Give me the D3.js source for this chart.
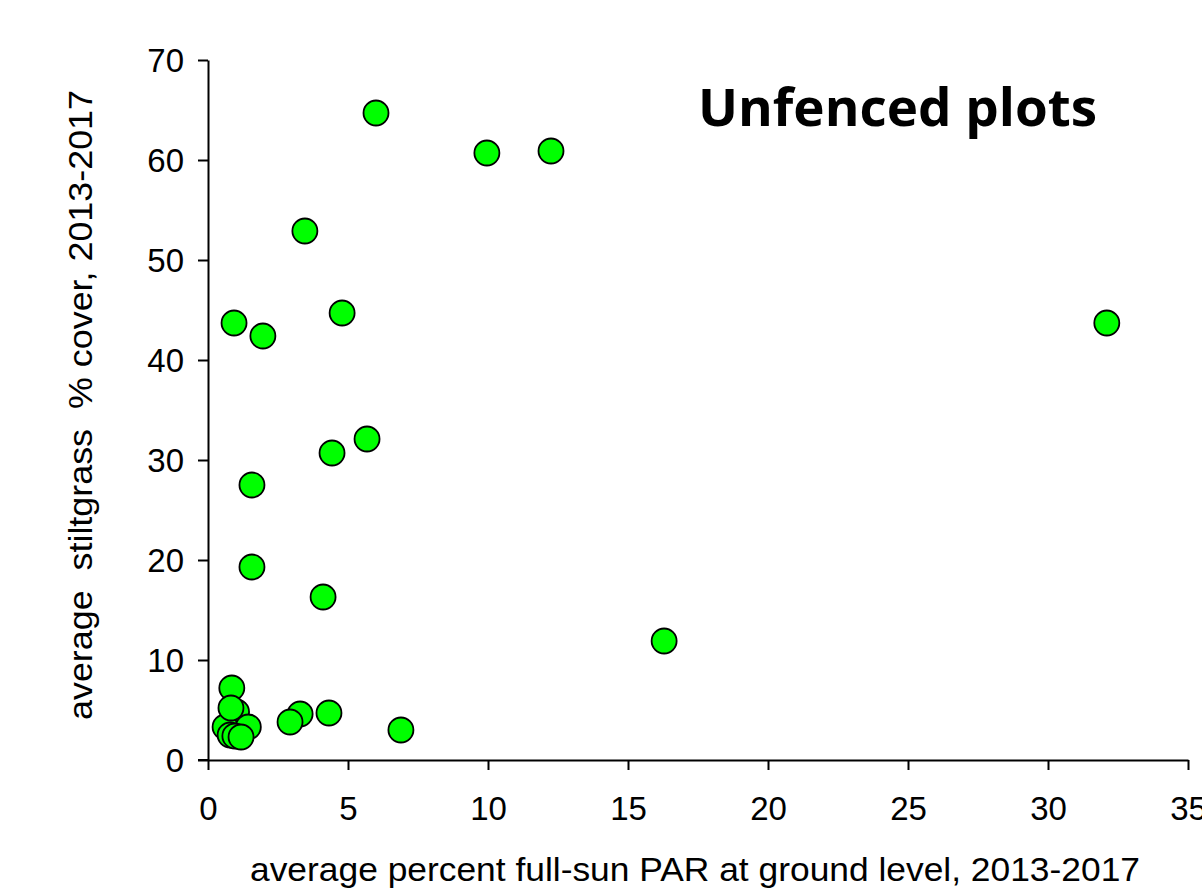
<!DOCTYPE html>
<html>
<head>
<meta charset="utf-8">
<script src="https://cdn.jsdelivr.net/npm/d3@7"></script>
<style>
  body { margin: 0; background: #fff; }
  svg text { font-family: "Liberation Sans", Arial, sans-serif; fill: #000; }
</style>
</head>
<body>
<svg id="chart" width="1202" height="889"></svg>
<script>
// average percent full-sun PAR (x) vs average stiltgrass % cover (y)
var parValues = [6.0, 9.96, 12.25, 3.46, 4.79, 0.93, 1.96, 32.1, 5.68, 4.43, 1.57, 1.57, 4.11, 16.29,
  6.89, 4.32, 3.29, 2.93, 1.02, 0.61, 1.44, 0.85, 0.82, 0.79, 0.96, 1.18];
var coverValues = [64.7, 60.7, 60.9, 52.9, 44.7, 43.7, 42.4, 43.7, 32.1, 30.7, 27.5, 19.3, 16.3, 11.9,
  3.0, 4.7, 4.6, 3.8, 4.8, 3.3, 3.3, 7.2, 5.2, 2.5, 2.4, 2.3];
var xTicks = [0, 5, 10, 15, 20, 25, 30, 35];
var yTicks = [0, 10, 20, 30, 40, 50, 60, 70];

var points = parValues.map(function (d, i) { return { par: d, cover: coverValues[i] }; });

var svg = d3.select('svg#chart');

var x = d3.scaleLinear().domain([0, 35]).range([208, 1188]);
var y = d3.scaleLinear().domain([0, 70]).range([760, 60]);

var xAxis = svg.append('g')
    .attr('transform', 'translate(0,760)')
    .call(d3.axisBottom(x).tickValues(xTicks).tickSize(10).tickSizeOuter(0).tickPadding(12));

var yAxis = svg.append('g')
    .attr('transform', 'translate(208,0)')
    .call(d3.axisLeft(y).tickValues(yTicks).tickSize(10).tickSizeOuter(0).tickPadding(14));

[xAxis, yAxis].forEach(function (g) {
    g.attr('font-size', null).attr('font-family', null);
    g.select('.domain').attr('stroke', '#000').attr('stroke-width', 2);
    g.selectAll('.tick line').attr('stroke', '#000').attr('stroke-width', 2);
    g.selectAll('.tick text').style('font-size', '33px').attr('fill', '#000');
});

xAxis.selectAll('.tick text').attr('dy', null).attr('y', 60);
yAxis.selectAll('.tick text').attr('dy', '0.36em');

// extend x axis line to meet the y axis 0 tick
svg.append('line')
    .attr('x1', 198).attr('x2', 208)
    .attr('y1', 760).attr('y2', 760)
    .attr('stroke', '#000').attr('stroke-width', 2);

svg.append('g')
    .selectAll('circle')
    .data(points)
    .enter()
    .append('circle')
    .attr('cx', function (d) { return x(d.par); })
    .attr('cy', function (d) { return y(d.cover); })
    .attr('r', 12.5)
    .attr('fill', '#00ff00')
    .attr('stroke', '#000')
    .attr('stroke-width', 1.8);

svg.append('text')
    .attr('x', 250)
    .attr('y', 881)
    .attr('textLength', 890)
    .attr('lengthAdjust', 'spacingAndGlyphs')
    .style('font-size', '34px')
    .text('average percent full-sun PAR at ground level, 2013-2017');

svg.append('text')
    .attr('transform', 'translate(92,720) rotate(-90)')
    .attr('xml:space', 'preserve')
    .style('white-space', 'pre')
    .attr('textLength', 630)
    .attr('lengthAdjust', 'spacingAndGlyphs')
    .style('font-size', '34px')
    .text('average  stiltgrass  % cover, 2013-2017');

svg.append('text')
    .attr('x', 698)
    .attr('y', 126)
    .attr('textLength', 399)
    .attr('lengthAdjust', 'spacingAndGlyphs')
    .style('font-family', '"Open Sans", sans-serif')
    .style('font-weight', 'bold')
    .style('font-size', '52px')
    .text('Unfenced plots');
</script>
</body>
</html>
